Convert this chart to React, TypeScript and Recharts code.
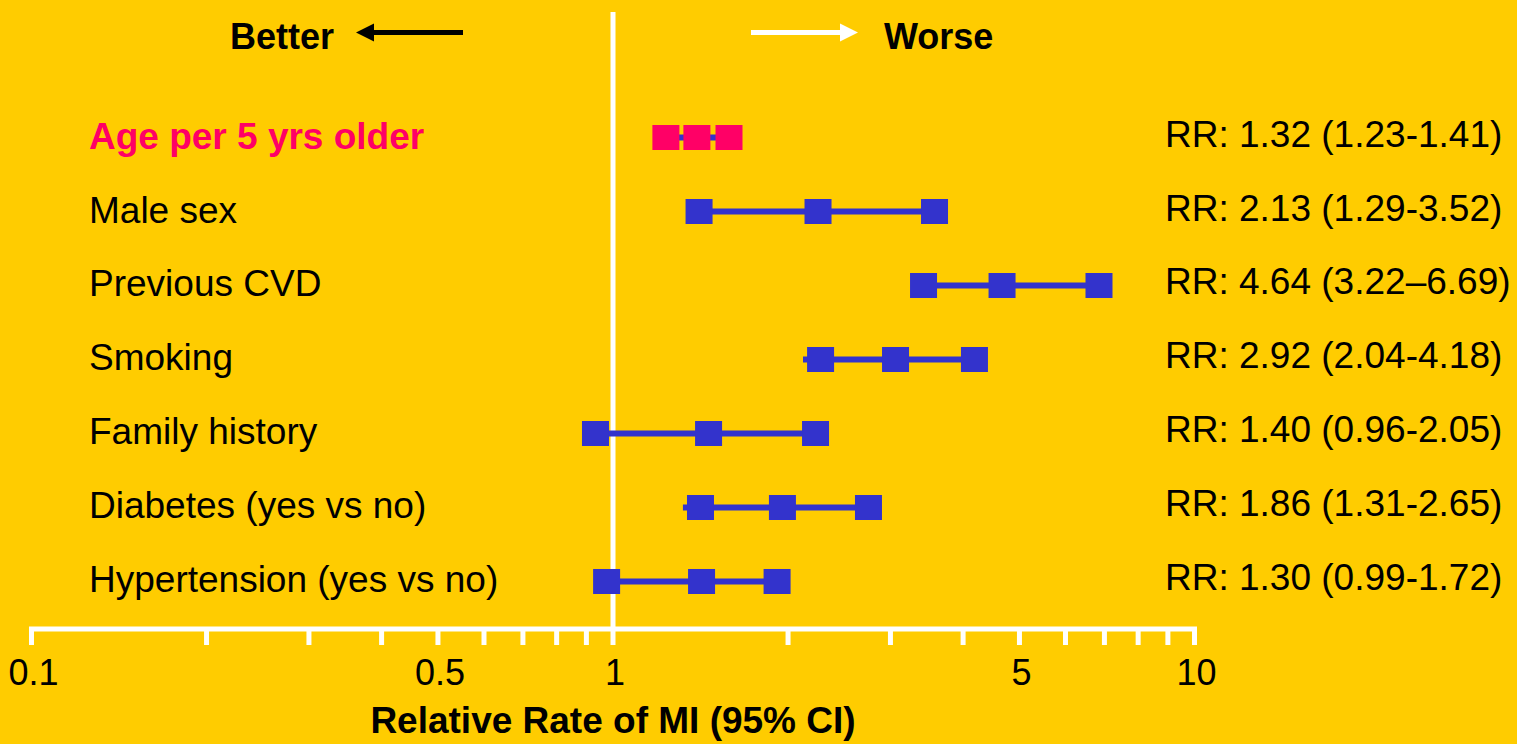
import React from 'react';
import { ScatterChart, Scatter, XAxis, YAxis, ReferenceLine, Label } from 'recharts';

// ---- data ----
const factors = [
  'Age per 5 yrs older',
  'Male sex',
  'Previous CVD',
  'Smoking',
  'Family history',
  'Diabetes (yes vs no)',
  'Hypertension (yes vs no)',
];
const rrLabels = [
  'RR: 1.32 (1.23-1.41)',
  'RR: 2.13 (1.29-3.52)',
  'RR: 4.64 (3.22\u20136.69)',
  'RR: 2.92 (2.04-4.18)',
  'RR: 1.40 (0.96-2.05)',
  'RR: 1.86 (1.31-2.65)',
  'RR: 1.30 (0.99-1.72)',
];
// marker positions as drawn in the picture (relative rate)
const markerLow = [1.233, 1.406, 3.42, 2.275, 0.933, 1.414, 0.975];
const markerMid = [1.394, 2.252, 4.667, 3.061, 1.46, 1.956, 1.42];
const markerHigh = [1.583, 3.572, 6.851, 4.184, 2.23, 2.75, 1.915];
const lineStart = [1.233, 1.406, 3.42, 2.122, 0.933, 1.319, 0.975];
const highlighted = [true, false, false, false, false, false, false];

const axisTicks = [0.1, 0.2, 0.3, 0.4, 0.5, 0.6, 0.7, 0.8, 0.9, 1, 2, 3, 4, 5, 6, 7, 8, 9, 10];
const axisLabels = [0.1, 0.5, 1, 5, 10];
const rowTicks = [0, 1, 2, 3, 4, 5, 6];

// ---- style ----
const BG = '#FFCC00';
const BLUE = '#3333CC';
const PINK = '#FF0066';
const FONT = '"Liberation Sans", Arial, Helvetica, sans-serif';

const rows = factors.map((_, i) => [
  { x: lineStart[i], y: i, mark: false },
  { x: markerLow[i], y: i, mark: true },
  { x: markerMid[i], y: i, mark: true },
  { x: markerHigh[i], y: i, mark: true },
]);

const makeShape = (color: string) => (props: any) => {
  const { cx, cy, payload } = props;
  if (!payload || !payload.mark) return <g />;
  return <rect x={cx - 13.5} y={cy - 12.5} width={27} height={25} fill={color} />;
};

const XTick = (props: any) => {
  const { x, y, payload } = props;
  if (!axisLabels.includes(payload.value)) return <g />;
  return (
    <text x={x + 2} y={y + 38} textAnchor="middle" fontSize={36} fontFamily={FONT} fill="#000">
      {String(payload.value)}
    </text>
  );
};

const RowTick = (props: any) => {
  const { y, payload } = props;
  const i = payload.value;
  const hl = highlighted[i];
  return (
    <g>
      <text
        x={89}
        y={y + 11}
        fontSize={37}
        fontFamily={FONT}
        fontWeight={hl ? 'bold' : 'normal'}
        fill={hl ? PINK : '#000'}
        textAnchor="start"
      >
        {factors[i]}
      </text>
      <text x={1165} y={y + 9} fontSize={37} fontFamily={FONT} fill="#000" textAnchor="start">
        {rrLabels[i]}
      </text>
    </g>
  );
};

const AxisTitle = (props: any) => {
  const vb = props.viewBox || { x: 31.5, y: 629, width: 1163 };
  return (
    <text
      x={vb.x + vb.width / 2}
      y={vb.y + 104}
      textAnchor="middle"
      fontSize={37}
      fontWeight="bold"
      fontFamily={FONT}
      fill="#000"
    >
      Relative Rate of MI (95% CI)
    </text>
  );
};

export default function App() {
  return (
    <div
      style={{
        position: 'absolute',
        left: 0,
        top: 0,
        width: 1517,
        height: 744,
        background: BG,
        overflow: 'hidden',
      }}
    >
      <ScatterChart
        width={1517}
        height={744}
        margin={{ top: 12, right: 322.5, bottom: 55, left: 21.5 }}
        style={{ fontFamily: FONT }}
      >
        <XAxis
          type="number"
          dataKey="x"
          scale="log"
          domain={[0.1, 10]}
          allowDataOverflow
          ticks={axisTicks}
          interval={0}
          height={60}
          axisLine={{ stroke: '#FFFFFF', strokeWidth: 5, strokeLinecap: 'square' }}
          tickLine={{ stroke: '#FFFFFF', strokeWidth: 5 }}
          tickSize={16}
          tick={XTick}
        >
          <Label content={AxisTitle} />
        </XAxis>
        <YAxis
          type="number"
          dataKey="y"
          domain={[-1.696, 6.642]}
          reversed
          allowDataOverflow
          ticks={rowTicks}
          interval={0}
          width={10}
          axisLine={false}
          tickLine={false}
          tick={RowTick}
        />
        <ReferenceLine x={1} stroke="#FFFFFF" strokeWidth={5} />
        {rows.map((data, i) => (
          <Scatter
            key={factors[i]}
            data={data}
            isAnimationActive={false}
            line={{ stroke: BLUE, strokeWidth: 6 }}
            shape={makeShape(highlighted[i] ? PINK : BLUE)}
          />
        ))}
      </ScatterChart>
      <svg
        width={1517}
        height={744}
        style={{ position: 'absolute', left: 0, top: 0, pointerEvents: 'none' }}
      >
        <text x={230} y={49} fontSize={36} fontWeight="bold" fontFamily={FONT} fill="#000">
          Better
        </text>
        <line x1={372} y1={32.5} x2={463} y2={32.5} stroke="#000" strokeWidth={5} />
        <polygon points="356,32.5 374,23.5 374,41.5" fill="#000" />
        <line x1={751} y1={32.5} x2={842} y2={32.5} stroke="#FFFFFF" strokeWidth={5} />
        <polygon points="858,32.5 840,23.5 840,41.5" fill="#FFFFFF" />
        <text x={884} y={49} fontSize={36} fontWeight="bold" fontFamily={FONT} fill="#000">
          Worse
        </text>
      </svg>
    </div>
  );
}
